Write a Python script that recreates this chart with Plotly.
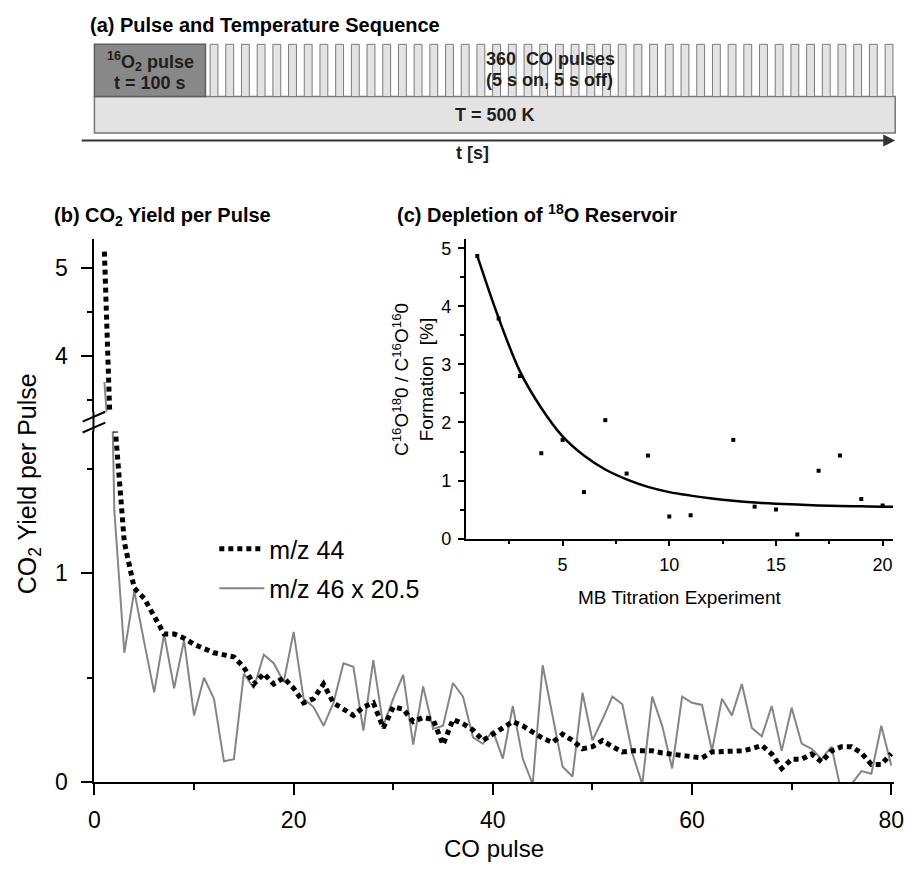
import plotly.graph_objects as go

W, H = 919, 873


def px(x):
    return x / W


def py(y):
    return 1 - y / H


# ---------------- data ----------------
pulse_no = list(range(1, 81))
mz44 = [5.19, 1.75, 1.15, 0.93, 0.88, 0.80, 0.71, 0.71, 0.69, 0.66,
        0.64, 0.62, 0.61, 0.60, 0.55, 0.47, 0.52, 0.47, 0.50, 0.45,
        0.38, 0.40, 0.47, 0.38, 0.35, 0.32, 0.36, 0.38, 0.26, 0.36,
        0.35, 0.29, 0.31, 0.30, 0.18, 0.30, 0.28, 0.25, 0.20, 0.23,
        0.26, 0.29, 0.27, 0.24, 0.21, 0.19, 0.23, 0.20, 0.16, 0.17,
        0.20, 0.17, 0.145, 0.15, 0.15, 0.15, 0.14, 0.135, 0.13, 0.125,
        0.116, 0.145, 0.145, 0.145, 0.15, 0.16, 0.176, 0.135, 0.066, 0.11,
        0.11, 0.135, 0.097, 0.15, 0.17, 0.17, 0.14, 0.085, 0.085, 0.137]
mz46 = [3.70, 1.30, 0.62, 0.915, 0.67, 0.43, 0.71, 0.45, 0.68, 0.32,
        0.50, 0.40, 0.10, 0.11, 0.52, 0.45, 0.61, 0.57, 0.48, 0.72,
        0.40, 0.36, 0.27, 0.38, 0.57, 0.553, 0.247, 0.585, 0.27, 0.40,
        0.514, 0.18, 0.459, 0.255, 0.27, 0.475, 0.41, 0.215, 0.184, 0.247,
        0.113, 0.365, 0.113, -0.01, 0.56, 0.32, 0.074, 0.027, 0.428, 0.20,
        0.30, 0.41, 0.373, 0.14, -0.01, 0.41, 0.27, 0.066, 0.41, 0.38,
        0.37, 0.15, 0.40, 0.32, 0.47, 0.26, 0.22, 0.365, 0.15, 0.357,
        0.185, 0.16, 0.11, 0.17, -0.05, -0.01, 0.053, 0.04, 0.27, 0.08]

exp_no = [1, 2, 3, 4, 5, 6, 7, 8, 9, 10, 11, 13, 14, 15, 16, 17, 18, 19, 20]
ratio = [4.87, 3.79, 2.80, 1.47, 1.70, 0.80, 2.04, 1.12, 1.43, 0.38,
         0.40, 1.70, 0.55, 0.50, 0.07, 1.17, 1.43, 0.68, 0.57]
fit_x = [1, 2, 3, 4, 5, 6, 7, 8, 9, 10, 11, 12, 13, 14, 15, 16, 17, 18, 19, 20, 20.5]
fit_y = [4.87, 3.80, 2.88, 2.25, 1.76, 1.43, 1.19, 1.02, 0.89, 0.80,
         0.74, 0.69, 0.65, 0.62, 0.60, 0.585, 0.57, 0.56, 0.555, 0.55, 0.55]

n_co_pulses_drawn = 44

FONT = "Liberation Sans, Arial, sans-serif"

fig = go.Figure()

# main plot, drawn in lower and upper (broken) segments
for yax, show in (("y", True), ("y2", False)):
    fig.add_trace(go.Scatter(
        x=pulse_no, y=mz46, mode="lines", name="m/z 46 x 20.5",
        line=dict(color="#858585", width=2),
        xaxis="x", yaxis=yax, showlegend=show, legend="legend2"))
    fig.add_trace(go.Scatter(
        x=pulse_no, y=mz44, mode="lines", name="m/z 44",
        line=dict(color="black", width=5, dash="5px,4px"),
        xaxis="x", yaxis=yax, showlegend=show, legend="legend"))

# inset
fig.add_trace(go.Scatter(
    x=exp_no, y=ratio, mode="markers",
    marker=dict(symbol="square", size=4, color="black"),
    xaxis="x3", yaxis="y3", showlegend=False))
fig.add_trace(go.Scatter(
    x=fit_x, y=fit_y, mode="lines",
    line=dict(color="black", width=2.5, shape="spline"),
    xaxis="x3", yaxis="y3", showlegend=False))

common = dict(showline=True, linecolor="black", linewidth=2, ticks="outside",
              tickcolor="black", tickwidth=2, showgrid=False, zeroline=False)

fig.update_layout(
    width=W, height=H,
    margin=dict(l=0, r=0, t=0, b=0),
    paper_bgcolor="white", plot_bgcolor="rgba(0,0,0,0)",
    font=dict(family=FONT, color="black"),
    xaxis=dict(domain=[px(90), px(904)], range=[0, 80.3], anchor="y",
               tickvals=[0, 20, 40, 60, 80], ticklen=11,
               tickfont=dict(size=23), ticklabelstandoff=5,
               minor=dict(ticks="outside", tickvals=[10, 30, 50, 70], ticklen=6,
                          tickwidth=2, tickcolor="black"),
               **common),
    yaxis=dict(domain=[py(794), py(438)], range=[0, 1.68], anchor="x",
               tickvals=[0, 1], ticklen=11, tickfont=dict(size=23),
               ticklabelstandoff=9,
               minor=dict(ticks="outside", tickvals=[0.5, 1.5], ticklen=5,
                          tickwidth=2, tickcolor="black"),
               **common),
    yaxis2=dict(domain=[py(418), py(243)], range=[3.36, 5.33], anchor="x",
                tickvals=[4, 5], ticklen=11, tickfont=dict(size=23),
                ticklabelstandoff=9,
                minor=dict(ticks="outside", tickvals=[3.5, 4.5], ticklen=5,
                           tickwidth=2, tickcolor="black"),
                **common),
    xaxis3=dict(domain=[px(467.7), px(903)], range=[0.45, 20.5], anchor="y3",
                tickvals=[5, 10, 15, 20], ticklen=6, tickfont=dict(size=18),
                ticklabelstandoff=3,
                minor=dict(ticks="outside", tickvals=[2.5, 7.5, 12.5, 17.5], ticklen=4,
                           tickwidth=1.5, tickcolor="black"),
                **{**common, "linewidth": 1.5, "tickwidth": 1.5}),
    yaxis3=dict(domain=[py(546.7), py(242.7)], range=[0, 5.16], anchor="x3",
                tickvals=[0, 1, 2, 3, 4, 5], ticklen=6, tickfont=dict(size=18),
                ticklabelstandoff=3,
                minor=dict(ticks="outside", tickvals=[0.5, 1.5, 2.5, 3.5, 4.5], ticklen=4,
                           tickwidth=1.5, tickcolor="black"),
                **{**common, "linewidth": 1.5, "tickwidth": 1.5}),
    legend=dict(x=px(212), y=py(534), xanchor="left", yanchor="top",
                font=dict(size=25), bgcolor="rgba(0,0,0,0)", itemwidth=45),
    legend2=dict(x=px(212), y=py(574), xanchor="left", yanchor="top",
                 font=dict(size=25), bgcolor="rgba(0,0,0,0)", itemwidth=45),
)

shapes = []
# panel (a) schematic
shapes.append(dict(type="rect", xref="paper", yref="paper",
                   x0=px(90), x1=px(905), y0=py(135), y1=py(98),
                   fillcolor="#e3e3e3", line=dict(color="#777777", width=1.5)))
shapes.append(dict(type="rect", xref="paper", yref="paper",
                   x0=px(90), x1=px(203), y0=py(98), y1=py(45),
                   fillcolor="#888888", line=dict(color="#5e5e5e", width=1.5)))
period = (902.7 - 8 - 207.7) / (n_co_pulses_drawn - 1)
for i in range(n_co_pulses_drawn):
    left = 207.7 + i * period
    shapes.append(dict(type="rect", xref="paper", yref="paper",
                       x0=px(left), x1=px(left + 8), y0=py(98), y1=py(45),
                       fillcolor="#e3e3e3", line=dict(color="#7a7a7a", width=1)))
# axis break marks
shapes.append(dict(type="line", xref="paper", yref="paper",
                   x0=px(89), x1=px(89), y0=py(418), y1=py(438),
                   line=dict(color="black", width=2)))
shapes.append(dict(type="line", xref="paper", yref="paper",
                   x0=px(78), x1=px(101), y0=py(428), y1=py(418),
                   line=dict(color="black", width=2)))
shapes.append(dict(type="line", xref="paper", yref="paper",
                   x0=px(78), x1=px(101), y0=py(439), y1=py(429),
                   line=dict(color="black", width=2)))
fig.update_layout(shapes=shapes)


def ann(text, x, y, size, xanchor="center", angle=0, color="black"):
    fig.add_annotation(text=text, x=px(x), y=py(y), xref="paper", yref="paper",
                       xanchor=xanchor, yanchor="middle", showarrow=False,
                       textangle=angle, font=dict(size=size, color=color, family=FONT))


# time arrow
fig.add_annotation(x=px(905), y=py(142.7), xref="paper", yref="paper",
                   ax=-(905 - 90), ay=0, axref="pixel", ayref="pixel",
                   text="", showarrow=True, arrowhead=2, arrowsize=1.2,
                   arrowwidth=2, arrowcolor="#333333")

ann("<b>(a) Pulse and Temperature Sequence</b>", 83, 25, 20, "left")
ann("<b><sup>16</sup>O<sub>2</sub> pulse</b>", 147, 62, 18, color="#1e1e1e")
ann("<b>t = 100 s</b>", 147, 84, 18, color="#1e1e1e")
ann("<b>360\u00a0 CO pulses</b>", 486, 60, 18, "left", color="#1e1e1e")
ann("<b>(5 s on, 5 s off)</b>", 486, 81, 18, "left", color="#1e1e1e")
ann("<b>T = 500 K</b>", 498, 117, 18, color="#1e1e1e")
ann("<b>t [s]</b>", 475, 155, 18, color="#1e1e1e")

ann("<b>(b) CO<sub>2</sub> Yield per Pulse</b>", 47, 220, 20, "left")
ann("<b>(c) Depletion of <sup>18</sup>O Reservoir</b>", 396, 217, 20, "left")

ann("CO<sub>2</sub> Yield per Pulse", 23, 491, 25, angle=-90)
ann("CO pulse", 497, 861, 24)
ann("C<sup>16</sup>O<sup>18</sup>0 / C<sup>16</sup>O<sup>16</sup>0<br>Formation  [%]",
    414, 385, 19, angle=-90)
ann("MB Titration Experiment", 685, 607, 19)

fig.write_html("out.html",
               config={"displayModeBar": False},
               post_script="document.body.style.margin='0';"
                           "document.body.style.overflow='hidden';")
